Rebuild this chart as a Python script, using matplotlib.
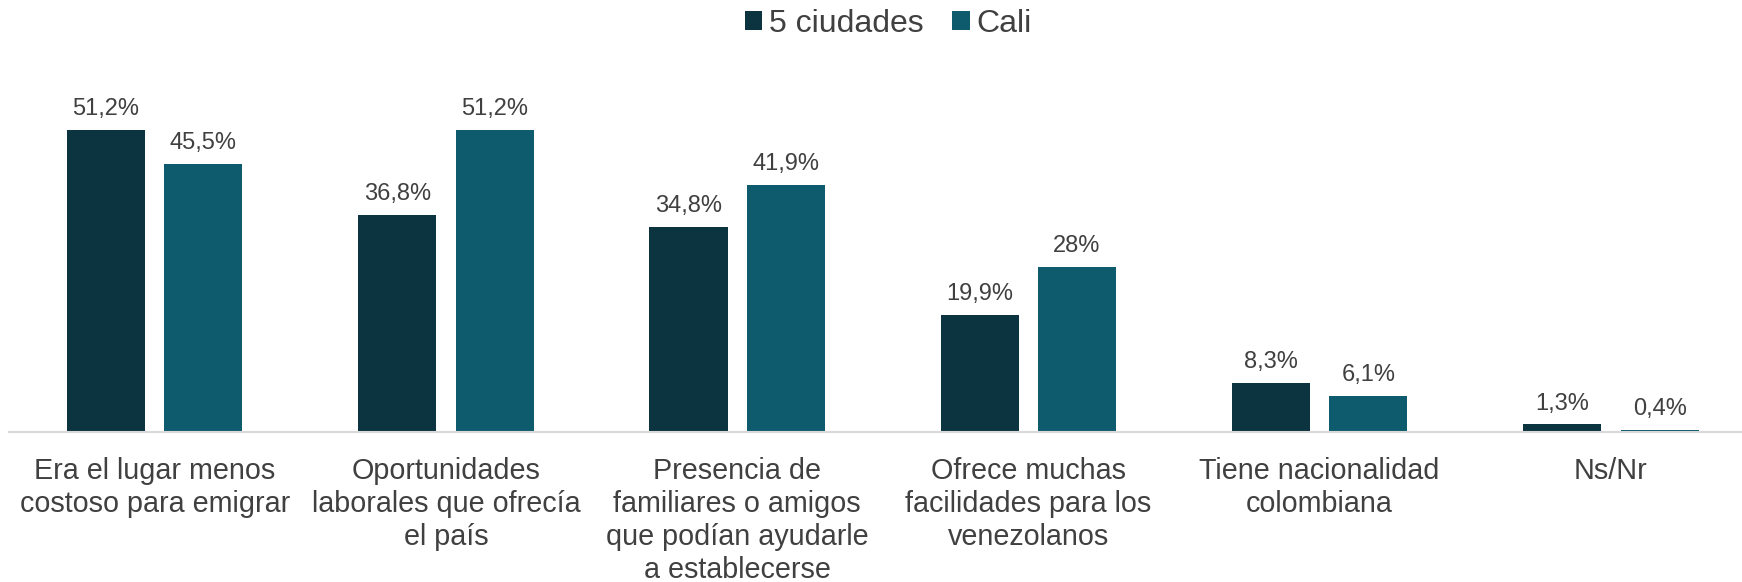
import matplotlib.pyplot as plt
import numpy as np

plt.rcParams["font.family"] = ["Liberation Sans", "DejaVu Sans"]

categories = [
    "Era el lugar menos\ncostoso para emigrar",
    "Oportunidades\nlaborales que ofrecía\nel país",
    "Presencia de\nfamiliares o amigos\nque podían ayudarle\na establecerse",
    "Ofrece muchas\nfacilidades para los\nvenezolanos",
    "Tiene nacionalidad\ncolombiana",
    "Ns/Nr",
]
ciudades = [51.2, 36.8, 34.8, 19.9, 8.3, 1.3]
cali = [45.5, 51.2, 41.9, 28.0, 6.1, 0.4]
ciudades_txt = ["51,2%", "36,8%", "34,8%", "19,9%", "8,3%", "1,3%"]
cali_txt = ["45,5%", "51,2%", "41,9%", "28%", "6,1%", "0,4%"]

c_dark = "#0b3440"
c_teal = "#0f5b6e"
txt = "#404040"

fig = plt.figure(figsize=(17.42, 5.82), dpi=100)
ax = fig.add_axes([9 / 1742, 1 - 432 / 582, 1 - 9 / 1742, 332 / 582])

x = np.arange(len(categories))
w = 0.268
off = 0.167
b1 = ax.bar(x - off, ciudades, w, color=c_dark, label="5 ciudades")
b2 = ax.bar(x + off, cali, w, color=c_teal, label="Cali")

for bars, labs in ((b1, ciudades_txt), (b2, cali_txt)):
    for b, t in zip(bars, labs):
        ax.annotate(t, (b.get_x() + b.get_width() / 2, b.get_height()),
                    xytext=(0, 7), textcoords="offset points",
                    ha="center", va="bottom", fontsize=17, color=txt)

ax.set_xlim(-0.5, 5.45)
ax.set_ylim(0, 56.3)
ax.set_xticks(x)
ax.set_xticklabels(categories, fontsize=20.7, color=txt, linespacing=1.22)
ax.tick_params(axis="x", length=0, pad=18)
ax.set_yticks([])
for s in ("top", "right", "left"):
    ax.spines[s].set_visible(False)
ax.spines["bottom"].set_color("#d9d9d9")
ax.spines["bottom"].set_linewidth(1.5)

fig.legend(loc="center", bbox_to_anchor=(888 / 1742, 1 - 24 / 582), ncol=2,
           frameon=False, fontsize=23, labelcolor=txt, handlelength=0.55,
           handleheight=0.55, handletextpad=0.2, columnspacing=0.9)

fig.savefig("out.png", dpi=100)
